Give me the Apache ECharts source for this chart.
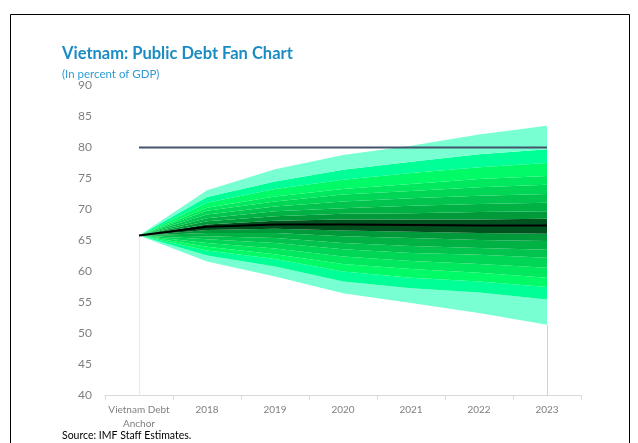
<!DOCTYPE html>
<html>
<head>
<meta charset="utf-8">
<script src="https://cdn.jsdelivr.net/npm/echarts@6/dist/echarts.min.js"></script>
<style>
html,body{margin:0;padding:0;background:#fff;}
#chart{width:638px;height:443px;}
</style>
</head>
<body>
<div id="chart"></div>
<script>
const categories = ['Vietnam Debt\nAnchor', '2018', '2019', '2020', '2021', '2022', '2023'];
const yTicks = [40, 45, 50, 55, 60, 65, 70, 75, 80, 85, 90];

// Percentile paths (percent of GDP)
const p05 = [65.8, 61.6, 59.2, 56.5, 54.9, 53.3, 51.4];
const p10 = [65.8, 62.6, 60.8, 58.4, 57.3, 56.6, 55.5];
const p15 = [65.8, 63.4, 62.0, 60.0, 59.0, 58.4, 57.5];
const p20 = [65.8, 64.0, 62.8, 61.2, 60.4, 59.8, 59.0];
const p25 = [65.8, 64.6, 63.7, 62.4, 61.7, 61.2, 60.6];
const p30 = [65.8, 65.2, 64.6, 63.6, 63.0, 62.7, 62.2];
const p35 = [65.8, 65.7, 65.4, 64.6, 64.1, 63.8, 63.5];
const p40 = [65.8, 66.2, 66.2, 65.7, 65.4, 65.1, 64.9];
const p45 = [65.8, 66.7, 66.9, 66.6, 66.4, 66.2, 66.1];
const p50 = [65.8, 67.2, 67.6, 67.6, 67.5, 67.4, 67.4];
const p55 = [65.8, 67.6, 68.2, 68.4, 68.4, 68.4, 68.5];
const p60 = [65.8, 68.1, 68.9, 69.3, 69.4, 69.6, 69.7];
const p65 = [65.8, 68.6, 69.7, 70.2, 70.6, 70.9, 71.1];
const p70 = [65.8, 69.2, 70.5, 71.3, 71.8, 72.2, 72.5];
const p75 = [65.8, 69.8, 71.3, 72.4, 73.0, 73.6, 74.0];
const p80 = [65.8, 70.3, 72.1, 73.3, 74.1, 74.9, 75.4];
const p85 = [65.8, 71.1, 73.3, 74.8, 75.9, 76.8, 77.5];
const p90 = [65.8, 72.0, 74.5, 76.4, 77.7, 78.9, 79.7];
const p95 = [65.8, 73.1, 76.5, 78.8, 80.3, 82.1, 83.5];
const debtAnchor = [80, 80, 80, 80, 80, 80, 80];

const percentiles = [p05, p10, p15, p20, p25, p30, p35, p40, p45, p50,
                     p55, p60, p65, p70, p75, p80, p85, p90, p95];
// colours from innermost (next to median) to outermost band
const bandColors = ['#00521f', '#009a3b', '#00b244', '#00c44d', '#00d655',
                    '#00e85d', '#00fb66', '#00ff97', '#78ffd2'];

const series = [];
series.push({
  type: 'line', stack: 'fan', data: p05, symbol: 'none', silent: true,
  lineStyle: { width: 0, opacity: 0 }, z: 1
});
for (let i = 1; i < percentiles.length; i++) {
  const dist = i <= 9 ? 10 - i : i - 9;
  const col = bandColors[dist - 1];
  series.push({
    type: 'line', stack: 'fan', symbol: 'none', silent: true, z: 2,
    data: percentiles[i].map((v, j) => +(v - percentiles[i - 1][j]).toFixed(3)),
    lineStyle: { width: 0, opacity: 0 },
    areaStyle: { color: col, opacity: 1 }
  });
}
series.push({
  type: 'line', data: p50, symbol: 'none', silent: true, z: 5,
  lineStyle: { color: '#000000', width: 2 },
  markLine: {
    symbol: 'none', silent: true, label: { show: false },
    data: [
      [{ coord: [0, 40], lineStyle: { color: '#d3f4ee', width: 1, type: 'solid' } }, { coord: [0, p05[0]] }],
      [{ coord: [6, 40], lineStyle: { color: '#7dffc9', width: 1, type: 'solid' } }, { coord: [6, p05[6]] }]
    ]
  }
});
series.push({
  type: 'line', data: debtAnchor, symbol: 'none', silent: true, z: 6,
  lineStyle: { color: '#44546a', width: 2 }
});

const chart = echarts.init(document.getElementById('chart'), null, { renderer: 'canvas' });
chart.setOption({
  animation: false,
  backgroundColor: '#ffffff',
  textStyle: { fontFamily: 'Lato' },
  title: {
    text: 'Vietnam: Public Debt Fan Chart',
    subtext: '(In percent of GDP)',
    left: 62, top: 45, itemGap: 6, padding: 0,
    textStyle: { fontFamily: 'Lato', fontSize: 16.5, fontWeight: 'bold', color: '#1b8cc3' },
    subtextStyle: { fontFamily: 'Lato', fontSize: 11.5, color: '#2f9bd4' }
  },
  grid: { left: 105, right: 57, top: 85.5, bottom: 47.5, containLabel: false },
  xAxis: {
    type: 'category', data: categories, boundaryGap: true,
    axisLine: { lineStyle: { color: '#d9d9d9', width: 1 } },
    axisTick: { show: true, length: 4, lineStyle: { color: '#d9d9d9' } },
    axisLabel: { color: '#7f7f7f', fontSize: 10, fontFamily: 'Lato', margin: 7, lineHeight: 14, interval: 0 },
    splitLine: { show: false }
  },
  yAxis: {
    type: 'value', min: yTicks[0], max: yTicks[yTicks.length - 1], interval: 5,
    axisLine: { show: false }, axisTick: { show: false },
    axisLabel: { color: '#7f7f7f', fontSize: 12, fontFamily: 'Lato', margin: 13 },
    splitLine: { show: false }
  },
  series: series,
  graphic: [
    { type: 'rect', silent: true,
      shape: { x: 10.5, y: 14.5, width: 619, height: 440 },
      style: { fill: 'none', stroke: '#000000', lineWidth: 1 } },
    { type: 'text', left: 62, top: 430, silent: true,
      style: { text: 'Source: IMF Staff Estimates.', fill: '#000000', font: '10.5px Lato' } }
  ]
});
</script>
</body>
</html>
